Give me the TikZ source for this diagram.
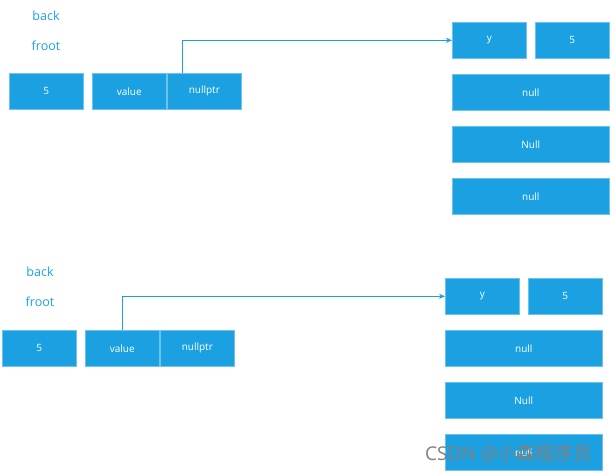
\documentclass[tikz,border=0pt]{standalone}
\usepackage{fontspec}
\setmainfont{Open Sans}
\newfontfamily\cjkfont{Noto Sans CJK SC}
\usetikzlibrary{arrows.meta}
\definecolor{boxblue}{HTML}{1BA1E2}
\definecolor{boxedge}{HTML}{6CC4EE}
\definecolor{lblblue}{HTML}{1BA1E2}
\definecolor{wmgray}{HTML}{808080}
\tikzset{
  cell/.style={draw=boxedge, line width=0.6pt, fill=boxblue, text=white, anchor=north west,
    inner sep=0pt, minimum height=36pt, font=\fontsize{10}{11}\selectfont},
  shortcell/.style={cell, minimum width=74pt},
  longcell/.style={cell, minimum width=157pt},
  lbl/.style={text=lblblue, font=\fontsize{12.5}{14}\selectfont, inner sep=0pt},
  link/.style={draw=boxblue, line width=0.8pt, -{Stealth[length=6pt,width=5pt]}},
  wm/.style={text=wmgray, font=\fontsize{19}{21}\selectfont, inner sep=0pt}
}
\begin{document}
\begin{tikzpicture}[x=1pt,y=-1pt]
\useasboundingbox (0,0) rectangle (612,472);
% top group
\node[lbl] (back1) at (46,16) {back};
\node[lbl] (froot1) at (46,46) {froot};
\node[shortcell] (five1) at (9,73) {5};
\node[shortcell] (val1) at (92,73) {value};
\node[shortcell] (np1) at (167,73) {nullptr};
\node[shortcell] (y1) at (452,22) {y};
\node[shortcell] (f1) at (535,22) {5};
\node[longcell] (n1a) at (452,74) {null};
\node[longcell] (n1b) at (452,126) {Null};
\node[longcell] (n1c) at (452,178) {null};
\coordinate (s1) at (182,73);
\draw[link] (s1) |- (y1.west);
% bottom group
\node[lbl] (back2) at (40,272) {back};
\node[lbl] (froot2) at (40,302) {froot};
\node[shortcell] (five2) at (2,330) {5};
\node[shortcell] (val2) at (85,330) {value};
\node[shortcell] (np2) at (160,330) {nullptr};
\node[shortcell] (y2) at (445,278) {y};
\node[shortcell] (f2) at (528,278) {5};
\node[longcell] (n2a) at (445,330) {null};
\node[longcell] (n2b) at (445,382) {Null};
\node[longcell] (n2c) at (445,434) {null};
\coordinate (s2) at (122,330);
\draw[link] (s2) |- (y2.west);
% watermark
\node[wm, anchor=west] (mark) at (425,453) {CSDN @{\cjkfont 小森程序员}};
\end{tikzpicture}
\end{document}
